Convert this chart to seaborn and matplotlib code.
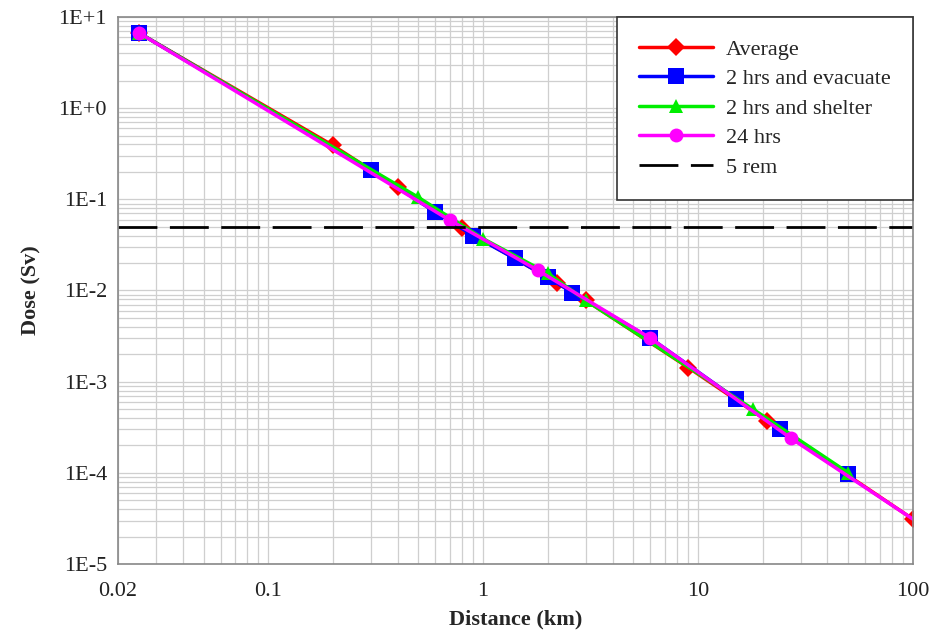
import numpy as np
import pandas as pd
import seaborn as sns
import matplotlib.pyplot as plt
from matplotlib.ticker import LogLocator, FixedLocator, FixedFormatter

# distance (km) vs dose (Sv)
avg_x = [0.025, 0.2, 0.4, 0.8, 2.2, 3.0, 9.0, 21.0, 100.0]
avg_y = [6.7, 0.39, 0.136, 0.048, 0.0122, 0.0078, 0.00143, 3.7e-4, 3.1e-5]

evac_x = [0.025, 0.3, 0.6, 0.9, 1.4, 2.0, 2.6, 6.0, 15.0, 24.0, 50.0]
evac_y = [6.7, 0.21, 0.072, 0.040, 0.0225, 0.0139, 0.0095, 0.003, 6.5e-4, 3.0e-4, 9.6e-5]

shelt_x = [0.025, 0.5, 1.0, 2.0, 3.0, 18.0, 50.0]
shelt_y = [6.7, 0.105, 0.037, 0.0154, 0.0078, 5.0e-4, 1.0e-4]

h24_x = [0.025, 0.7, 1.8, 6.0, 27.0, 100.0]
h24_y = [6.7, 0.059, 0.0166, 0.003, 2.4e-4, 3.1e-5]
h24_marks = [0, 1, 2, 3, 4]   # last point is line only

limit_dose = 0.05  # 5 rem

y_ticks = [1e1, 1e0, 1e-1, 1e-2, 1e-3, 1e-4, 1e-5]
y_labels = ['1E+1', '1E+0', '1E-1', '1E-2', '1E-3', '1E-4', '1E-5']
x_ticks = [0.02, 0.1, 1, 10, 100]
x_labels = ['0.02', '0.1', '1', '10', '100']

sns.set_style('white')
plt.rcParams['font.family'] = ['Liberation Serif', 'DejaVu Serif']

fig = plt.figure(figsize=(9.35, 6.34), dpi=100)
ax = fig.add_axes([0.1262, 0.1104, 0.8503, 0.8628])

series = [
    (avg_x, avg_y, 'Average', '#ff0000', 'D', 9, None),
    (evac_x, evac_y, '2 hrs and evacuate', '#0000ff', 's', 11, None),
    (shelt_x, shelt_y, '2 hrs and shelter', '#00ee00', '^', 10, None),
    (h24_x, h24_y, '24 hrs', '#ff00ff', 'o', 10, h24_marks),
]
for xs, ys, name, col, mk, ms, every in series:
    df = pd.DataFrame({'x': xs, 'y': ys})
    sns.lineplot(data=df, x='x', y='y', ax=ax, color=col, marker=mk,
                 markersize=ms, markeredgewidth=0, linewidth=2.5,
                 label=name, markevery=every)

ax.axhline(limit_dose, color='black', lw=2, dashes=(14, 4.5), label='5 rem')

ax.set_xscale('log')
ax.set_yscale('log')
ax.set_xlim(0.02, 100)
ax.set_ylim(1e-5, 1e1)

ax.xaxis.set_major_locator(FixedLocator(x_ticks))
ax.xaxis.set_major_formatter(FixedFormatter(x_labels))
ax.yaxis.set_major_locator(FixedLocator(y_ticks))
ax.yaxis.set_major_formatter(FixedFormatter(y_labels))
ax.xaxis.set_minor_locator(LogLocator(base=10, subs=np.arange(2, 10)))
ax.yaxis.set_minor_locator(LogLocator(base=10, subs=np.arange(2, 10)))
ax.xaxis.set_minor_formatter(plt.NullFormatter())
ax.yaxis.set_minor_formatter(plt.NullFormatter())
ax.grid(True, which='both', color='#cfcfcf', lw=0.9)
ax.set_axisbelow(True)
ax.tick_params(which='both', length=0, labelsize=16, colors='#222222')
ax.tick_params(axis='x', pad=13)
ax.tick_params(axis='y', pad=8)

for s in ax.spines.values():
    s.set_color('#888888')
    s.set_linewidth(1.2)

ax.set_xlabel('Distance (km)', fontsize=16, fontweight='bold', labelpad=6)
ax.set_ylabel('Dose (Sv)', fontsize=16, fontweight='bold', labelpad=12)

leg = ax.legend(loc='upper right', fontsize=16, frameon=True, fancybox=False,
                edgecolor='#333333', framealpha=1, borderaxespad=0,
                handlelength=3.3, handletextpad=0.6, labelspacing=0.4,
                borderpad=1.0)
leg.get_frame().set_linewidth(1.2)

fig.savefig('out.png', dpi=100)
